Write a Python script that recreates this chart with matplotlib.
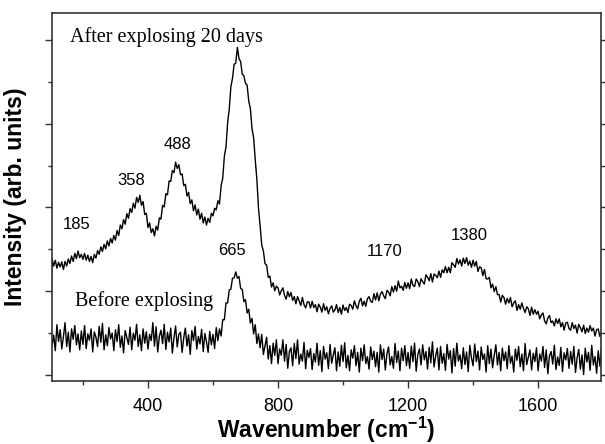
import matplotlib
matplotlib.use('Agg')
import matplotlib.pyplot as plt
import numpy as np
from matplotlib.ticker import MultipleLocator

# ---   DATA   --- #
# Raman shift grid (cm^-1), one sample every 5 cm^-1
wavenumber = np.arange(100, 1801, 5)

# Spectrum after exploding 20 days (arb. units)
after_20_days = [
    1.30, 2.78, 2.60, 2.74, 2.55, 2.69, 2.58, 2.70, 2.52, 2.71, 2.60, 2.77, 2.66, 2.84, 2.71, 2.90, 2.78, 2.96, 2.80, 2.88,
    2.76, 2.90, 2.74, 2.86, 2.71, 2.83, 2.68, 2.88, 2.79, 2.97, 2.88, 3.06, 2.95, 3.12, 3.01, 3.20, 3.08, 3.26, 3.15, 3.33,
    3.22, 3.45, 3.33, 3.58, 3.49, 3.71, 3.60, 3.85, 3.74, 3.97, 3.88, 4.10, 3.98, 4.24, 4.12, 4.29, 4.05, 4.14, 3.83, 3.86,
    3.52, 3.63, 3.40, 3.49, 3.32, 3.55, 3.46, 3.75, 3.72, 4.05, 4.01, 4.33, 4.30, 4.63, 4.62, 4.88, 4.83, 5.08, 4.93, 5.02,
    4.78, 4.80, 4.52, 4.55, 4.27, 4.36, 4.09, 4.18, 3.92, 4.06, 3.82, 3.96, 3.72, 3.86, 3.63, 3.77, 3.58, 3.74, 3.64, 3.86,
    3.80, 3.98, 3.94, 4.16, 4.08, 4.52, 4.70, 5.22, 5.44, 6.02, 6.34, 6.88, 7.08, 7.42, 7.44, 7.82, 7.55, 7.48, 7.18, 7.14,
    6.96, 6.92, 6.54, 6.36, 5.88, 5.66, 5.14, 4.66, 3.98, 3.56, 3.10, 2.96, 2.66, 2.62, 2.33, 2.36, 2.10, 2.20, 2.01, 2.12,
    2.08, 1.91, 2.01, 2.08, 1.90, 1.81, 1.99, 1.87, 1.97, 1.78, 1.87, 1.70, 1.87, 1.77, 1.66, 1.85, 1.68, 1.60, 1.74, 1.75,
    1.60, 1.76, 1.61, 1.68, 1.51, 1.69, 1.62, 1.50, 1.70, 1.54, 1.63, 1.46, 1.59, 1.65, 1.50, 1.55, 1.68, 1.49, 1.61, 1.45,
    1.67, 1.54, 1.61, 1.49, 1.69, 1.66, 1.57, 1.77, 1.65, 1.58, 1.76, 1.83, 1.65, 1.76, 1.64, 1.82, 1.87, 1.76, 1.73, 1.94,
    1.79, 1.96, 1.77, 1.93, 1.99, 1.89, 1.82, 2.02, 1.98, 1.89, 2.11, 1.98, 2.13, 2.00, 2.24, 2.08, 2.12, 2.02, 2.21, 2.07,
    2.20, 2.06, 2.29, 2.14, 2.11, 2.29, 2.23, 2.11, 2.30, 2.23, 2.17, 2.39, 2.33, 2.25, 2.42, 2.22, 2.41, 2.38, 2.32, 2.48,
    2.33, 2.51, 2.44, 2.59, 2.44, 2.57, 2.44, 2.68, 2.63, 2.57, 2.78, 2.65, 2.75, 2.60, 2.79, 2.66, 2.80, 2.62, 2.72, 2.57,
    2.74, 2.60, 2.71, 2.47, 2.58, 2.56, 2.37, 2.52, 2.30, 2.29, 2.33, 2.08, 2.17, 1.99, 2.11, 1.92, 1.92, 1.74, 1.90, 1.85,
    1.69, 1.83, 1.72, 1.85, 1.63, 1.72, 1.77, 1.54, 1.68, 1.57, 1.72, 1.59, 1.49, 1.63, 1.58, 1.42, 1.62, 1.45, 1.56, 1.45,
    1.52, 1.34, 1.43, 1.48, 1.29, 1.22, 1.36, 1.42, 1.25, 1.29, 1.17, 1.34, 1.23, 1.34, 1.15, 1.25, 1.07, 1.24, 1.26, 1.11,
    1.07, 1.25, 1.11, 1.19, 1.00, 1.21, 1.13, 1.03, 1.19, 0.99, 1.12, 1.02, 1.18, 1.05, 1.12, 0.93, 1.08, 1.10, 0.92, 1.03,
    0.94,
]

# Spectrum before exploding (arb. units)
before = [
    1.15, 0.70, 0.95, 0.58, 1.20, 0.80, 1.08, 0.62, 0.92, 1.25, 0.68, 1.02, 0.55, 1.10, 0.85, 1.18, 0.72, 0.98, 0.60, 1.05,
    0.73, 1.18, 0.63, 0.98, 0.83, 1.10, 0.55, 1.03, 0.90, 0.68, 1.16, 0.78, 1.23, 0.60, 0.96, 0.70, 1.13, 0.86, 1.00, 0.58,
    1.08, 0.80, 1.20, 0.66, 0.93, 0.53, 1.06, 0.90, 0.73, 1.14, 0.60, 1.00, 0.83, 1.21, 0.68, 0.96, 0.58, 1.10, 0.76, 1.03,
    0.62, 0.97, 0.82, 1.25, 0.69, 1.15, 0.55, 0.92, 1.07, 0.75, 1.21, 0.61, 1.02, 0.79, 1.12, 0.52, 0.89, 1.17, 0.67, 0.97,
    1.02, 0.54, 0.89, 1.12, 0.69, 0.96, 0.49, 1.06, 0.82, 1.16, 0.62, 0.92, 0.74, 1.09, 0.56, 0.99, 0.79, 0.54, 1.04, 0.72,
    0.97, 0.63, 1.13, 0.82, 1.10, 0.93, 1.32, 1.32, 1.72, 1.72, 2.03, 2.05, 2.31, 2.32, 2.46, 2.31, 2.35, 2.07, 2.04, 1.75,
    1.80, 1.48, 1.57, 1.24, 1.35, 0.98, 1.20, 0.75, 0.98, 0.65, 0.97, 0.49, 0.69, 0.90, 0.38, 0.70, 0.27, 0.76, 0.47, 0.84,
    0.27, 0.62, 0.47, 0.84, 0.33, 0.73, 0.16, 0.56, 0.65, 0.22, 0.75, 0.39, 0.84, 0.26, 0.50, 0.33, 0.78, 0.15, 0.59, 0.42,
    0.63, 0.13, 0.51, 0.31, 0.76, 0.23, 0.58, 0.08, 0.68, 0.38, 0.53, 0.15, 0.73, 0.28, 0.48, 0.65, 0.10, 0.55, 0.21, 0.71,
    0.32, 0.77, 0.17, 0.47, 0.10, 0.60, 0.40, 0.70, 0.22, 0.54, 0.07, 0.64, 0.34, 0.72, 0.27, 0.44, 0.14, 0.67, 0.37, 0.57,
    0.20, 0.54, 0.07, 0.72, 0.37, 0.62, 0.12, 0.50, 0.67, 0.24, 0.44, 0.16, 0.75, 0.30, 0.57, 0.10, 0.64, 0.34, 0.70, 0.22,
    0.54, 0.16, 0.69, 0.32, 0.76, 0.09, 0.49, 0.62, 0.24, 0.72, 0.36, 0.56, 0.14, 0.66, 0.29, 0.79, 0.19, 0.46, 0.64, 0.12,
    0.68, 0.28, 0.51, 0.11, 0.73, 0.38, 0.58, 0.05, 0.63, 0.21, 0.76, 0.33, 0.48, 0.15, 0.65, 0.25, 0.55, 0.08, 0.71, 0.41,
    0.22, 0.74, 0.32, 0.57, 0.12, 0.67, 0.37, 0.50, 0.07, 0.70, 0.27, 0.62, 0.17, 0.47, 0.72, 0.24, 0.54, 0.10, 0.64, 0.34,
    0.55, 0.15, 0.70, 0.28, 0.45, 0.07, 0.62, 0.35, 0.68, 0.20, 0.50, 0.10, 0.75, 0.25, 0.42, 0.60, 0.12, 0.52, 0.32, 0.65,
    0.10, 0.50, 0.33, 0.68, 0.18, 0.60, 0.03, 0.46, 0.56, 0.26, 0.71, 0.13, 0.43, 0.23, 0.66, 0.08, 0.53, 0.36, 0.63, 0.16,
    0.56, 0.26, 0.68, 0.06, 0.41, 0.61, 0.14, 0.48, 0.01, 0.64, 0.31, 0.54, 0.11, 0.71, 0.24, 0.44, 0.04, 0.58, 0.21, 0.66,
    0.28,
]

# Peak annotations: (label, wavenumber, height)
peak_labels = ['185', '358', '488', '665', '1170', '1380']
peak_x = [182, 348, 490, 659, 1127, 1388]
peak_y = [3.60, 4.65, 5.51, 2.96, 2.94, 3.32]

# ---   PLOT   --- #
fig = plt.figure(figsize=(6.05, 4.44), dpi=100)
ax = fig.add_axes([0.0855, 0.1408, 0.9071, 0.8299])

ax.plot(wavenumber, after_20_days, color='black', lw=1.0)
ax.plot(wavenumber, before, color='black', lw=1.0)

for lab, px, py in zip(peak_labels, peak_x, peak_y):
    ax.text(px, py, lab, ha='center', va='center', fontsize=12,
            family='Liberation Sans')

ax.text(160, 8.07, 'After explosing 20 days', ha='left', va='center',
        fontsize=14.5, family='Liberation Serif')
ax.text(176, 1.77, 'Before explosing', ha='left', va='center',
        fontsize=14.5, family='Liberation Serif')

# Axes formatting
ax.set_xlim(104, 1792)
ax.set_ylim(-0.155, 8.64)
ax.xaxis.set_major_locator(MultipleLocator(400))
ax.xaxis.set_minor_locator(MultipleLocator(200))
ax.yaxis.set_major_locator(MultipleLocator(2))
ax.yaxis.set_minor_locator(MultipleLocator(1))
ax.tick_params(axis='both', which='both', direction='out', color='#333333',
               width=1.0, labelsize=13, right=True, top=False, pad=7)
ax.tick_params(axis='both', which='major', length=5)
ax.tick_params(axis='both', which='minor', length=3)
ax.tick_params(axis='y', which='both', labelleft=False)
for lbl in ax.get_xticklabels():
    lbl.set_family('Liberation Sans')
for sp in ax.spines.values():
    sp.set_color('#333333')
    sp.set_linewidth(1.2)

ax.set_xlabel('Wavenumber (cm$^{\\mathregular{-1}}$)', fontsize=16.5,
              fontweight='bold', family='Liberation Sans', labelpad=0)
ax.set_ylabel('Intensity (arb. units)', fontsize=16.5, fontweight='bold',
              family='Liberation Sans', labelpad=13)

plt.savefig('out.png', dpi=100)
